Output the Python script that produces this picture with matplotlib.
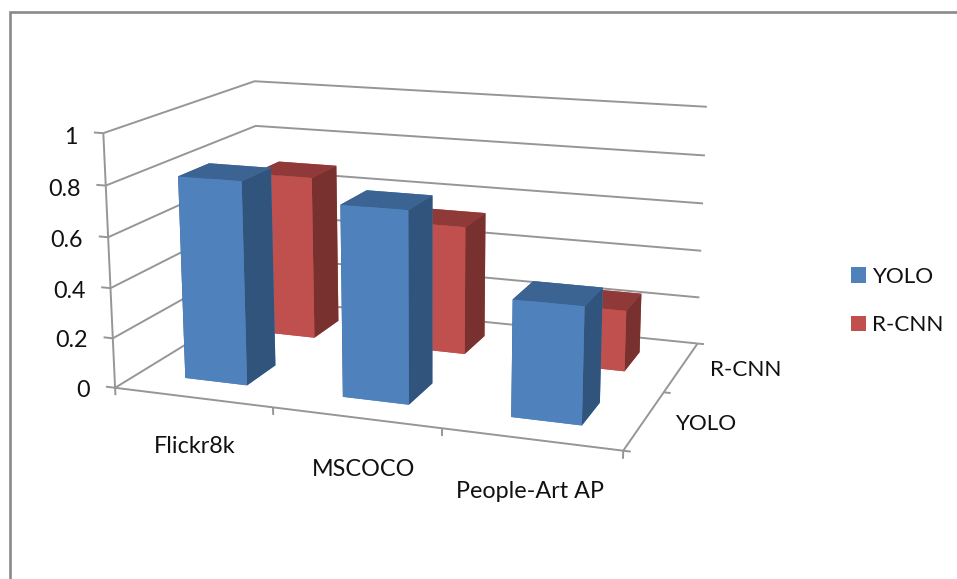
import numpy as np
import matplotlib
matplotlib.use("Agg")
import matplotlib.pyplot as plt
from matplotlib.patches import Patch, Rectangle
from mpl_toolkits.mplot3d import proj3d

plt.rcParams["font.family"] = ["Lato", "DejaVu Sans"]

W, H = 957, 579

categories = ["Flickr8k", "MSCOCO", "People-Art AP"]
series_names = ["YOLO", "R-CNN"]
yolo_values = [0.81, 0.75, 0.45]
rcnn_values = [0.69, 0.535, 0.25]
z_ticks = [0, 0.2, 0.4, 0.6, 0.8, 1]
z_tick_labels = ["0", "0.2", "0.4", "0.6", "0.8", "1"]
category_label_nudge = [0, 0.04, 0]

BAR = 0.4
FONT = 16.8
SERIES_FONT = 16.2
GREY = "#969696"
TEXT = "#111111"
BLUE = {"front": "#4F81BD", "top": "#3B6493", "side": "#31547D"}
RED = {"front": "#C0504D", "top": "#8F3A38", "side": "#79312F"}

fig = plt.figure(figsize=(W / 100, H / 100), dpi=100)

# frame round the whole chart area
fig.add_artist(Rectangle((9.7 / W, -5 / H), 960 / W, (H + 5 - 12.2) / H, transform=fig.transFigure,
                         fill=False, edgecolor="#8A8A8A", linewidth=1.9))

ax = fig.add_axes([250.65 / W, 168.08 / H, 324.49 / W, 324.49 / H], projection="3d", computed_zorder=False)
ax.set_xticks([])
ax.set_yticks([])
ax.set_zticks([])
ax.set_xlim(0, 3, view_margin=0)
ax.set_ylim(0, 2, view_margin=0)
ax.set_zlim(0, 1, view_margin=0)
ax.set_proj_type("persp", focal_length=1)
ax.view_init(14.1835, -70.0112, 0.0975)
ax.set_box_aspect((1, np.exp(-0.4164), np.exp(-0.6972)), zoom=np.exp(0.6789))
ax.set_axis_off()
ax.patch.set_visible(False)


def line(xs, ys, zs):
    ax.plot(xs, ys, zs, color=GREY, linewidth=1.4, clip_on=False, zorder=1,
            solid_joinstyle="miter", solid_capstyle="butt")


def label(x, y, z, text, **kw):
    # place flat text at the projected position of a 3d point
    px, py, _ = proj3d.proj_transform(x, y, z, ax.get_proj())
    ax.text2D(px, py, text, transform=ax.transData, va="center", color=TEXT, **kw)


# walls: gridlines run along the left wall then the back wall
for z in z_ticks:
    line([0, 0, 3], [0, 2, 2], [z, z, z])
    line([-0.06, 0], [0, 0], [z, z])

# floor edges, axis and tick marks
line([0, 0], [0, 0], [0, 1])
line([0, 3, 3], [0, 0, 2], [0, 0, 0])
for i in range(len(categories) + 1):
    line([i, i], [0, 0], [0, -0.03])
for j in range(len(series_names) + 1):
    line([3, 3.04], [j, j], [0, 0])


def draw_bars(values, row, colors, zorder):
    # bar3d face order: bottom, top, front, back, left, right
    faces = [colors["front"], colors["top"], colors["front"],
             colors["front"], colors["side"], colors["side"]]
    for i, v in enumerate(values):
        bars = ax.bar3d(i + (1 - BAR) / 2, row + (1 - BAR) / 2, 0, BAR, BAR, v,
                        color=faces, shade=False, zorder=zorder + i)
        bars.set_clip_on(False)
        bars.set_edgecolor(None)


# the back row has to be painted first
draw_bars(rcnn_values, 1, RED, 5)
draw_bars(yolo_values, 0, BLUE, 15)

for z, tick_label in zip(z_ticks, z_tick_labels):
    label(-0.165, 0, z - 0.022, tick_label, ha="right", fontsize=FONT)
for i, name in enumerate(categories):
    label(i + 0.5 + category_label_nudge[i], 0, -0.2, name, ha="center", fontsize=FONT)
for j, name in enumerate(series_names):
    label(3.17, j + 0.5, 0, name, ha="left", fontsize=SERIES_FONT)

handles = [Patch(facecolor=BLUE["front"], edgecolor="none", label=series_names[0]),
           Patch(facecolor=RED["front"], edgecolor="none", label=series_names[1])]
fig.legend(handles=handles, loc="center left", bbox_to_anchor=(830.75 / W, 1 - 301 / H), frameon=False,
           fontsize=SERIES_FONT, labelcolor=TEXT, handlelength=0.66, handleheight=0.66, handletextpad=0.27,
           labelspacing=1.26)

fig.savefig("out.png", dpi=100)
